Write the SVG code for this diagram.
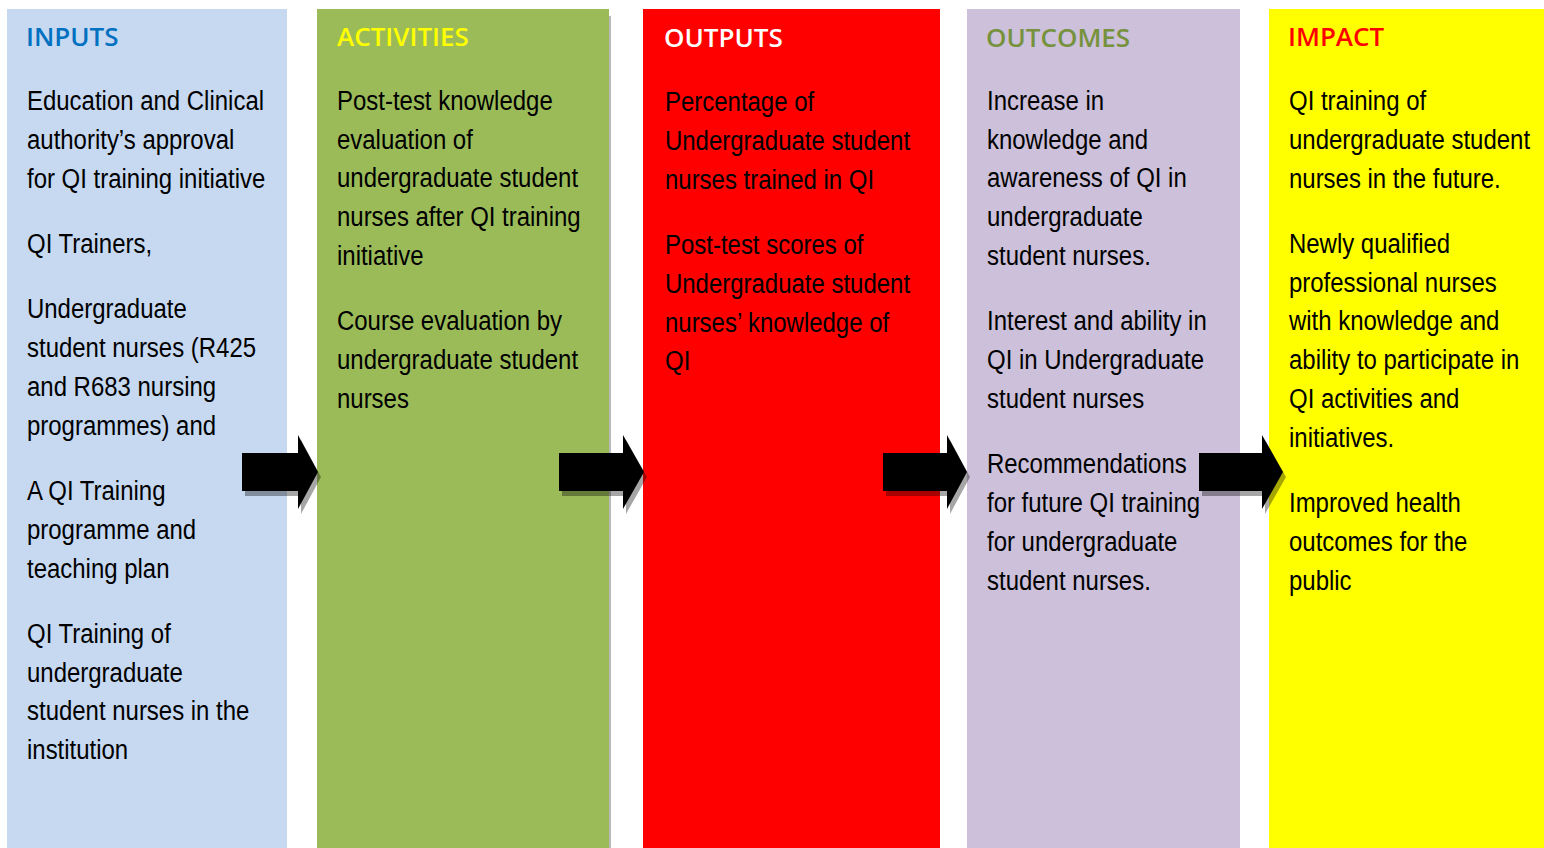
<svg xmlns="http://www.w3.org/2000/svg" width="1544" height="848" viewBox="0 0 1544 848">
<defs>
<style>
.hd{font-family:"Open Sans","Liberation Sans",sans-serif;font-weight:600;font-size:26px}
.tx{font-family:"Liberation Sans",Arial,sans-serif;font-size:28px;fill:#000}
.arrow{fill:#000}
.shadow{fill:#000;opacity:0.35}
</style>
</defs>
<rect x="0" y="0" width="1544" height="848" fill="#fff"/>
<g id="inputs">
<rect x="7" y="9" width="280" height="839" fill="#C6D9F1"/>
<text class="hd" x="26" y="46" fill="#0070C0">INPUTS</text>
<text class="tx" transform="translate(27,0) scale(0.856,1)"><tspan x="0" y="110">Education and Clinical</tspan><tspan x="0" y="149">authority’s approval</tspan><tspan x="0" y="188">for QI training initiative</tspan><tspan x="0" y="253">QI Trainers,</tspan><tspan x="0" y="318">Undergraduate</tspan><tspan x="0" y="357">student nurses (R425</tspan><tspan x="0" y="396">and R683 nursing</tspan><tspan x="0" y="435">programmes) and</tspan><tspan x="0" y="500">A QI Training</tspan><tspan x="0" y="539">programme and</tspan><tspan x="0" y="578">teaching plan</tspan><tspan x="0" y="643">QI Training of</tspan><tspan x="0" y="682">undergraduate</tspan><tspan x="0" y="720">student nurses in the</tspan><tspan x="0" y="759">institution</tspan></text>
</g>
<g id="activities">
<rect x="609" y="16" width="2" height="832" fill="#8a8a8a" opacity="0.6"/>
<rect x="317" y="9" width="292" height="839" fill="#9BBB59"/>
<text class="hd" x="337" y="46" fill="#FFFF00">ACTIVITIES</text>
<text class="tx" transform="translate(337,0) scale(0.856,1)"><tspan x="0" y="110">Post-test knowledge</tspan><tspan x="0" y="149">evaluation of</tspan><tspan x="0" y="187">undergraduate student</tspan><tspan x="0" y="226">nurses after QI training</tspan><tspan x="0" y="265">initiative</tspan><tspan x="0" y="330">Course evaluation by</tspan><tspan x="0" y="369">undergraduate student</tspan><tspan x="0" y="408">nurses</tspan></text>
</g>
<g id="outputs">
<rect x="643" y="9" width="297" height="839" fill="#FF0000"/>
<text class="hd" x="664" y="47" fill="#FFFFFF">OUTPUTS</text>
<text class="tx" transform="translate(665,0) scale(0.856,1)"><tspan x="0" y="111">Percentage of</tspan><tspan x="0" y="150">Undergraduate student</tspan><tspan x="0" y="189">nurses trained in QI</tspan><tspan x="0" y="254">Post-test scores of</tspan><tspan x="0" y="293">Undergraduate student</tspan><tspan x="0" y="332">nurses’ knowledge of</tspan><tspan x="0" y="370">QI</tspan></text>
</g>
<g id="outcomes">
<rect x="967" y="9" width="273" height="839" fill="#CCC0DA"/>
<text class="hd" x="986" y="47" fill="#76923C">OUTCOMES</text>
<text class="tx" transform="translate(987,0) scale(0.856,1)"><tspan x="0" y="110">Increase in</tspan><tspan x="0" y="149">knowledge and</tspan><tspan x="0" y="187">awareness of QI in</tspan><tspan x="0" y="226">undergraduate</tspan><tspan x="0" y="265">student nurses.</tspan><tspan x="0" y="330">Interest and ability in</tspan><tspan x="0" y="369">QI in Undergraduate</tspan><tspan x="0" y="408">student nurses</tspan><tspan x="0" y="473">Recommendations</tspan><tspan x="0" y="512">for future QI training</tspan><tspan x="0" y="551">for undergraduate</tspan><tspan x="0" y="590">student nurses.</tspan></text>
</g>
<g id="impact">
<rect x="1269" y="9" width="275" height="839" fill="#FFFF00"/>
<text class="hd" x="1288" y="46" fill="#FF0000">IMPACT</text>
<text class="tx" transform="translate(1289,0) scale(0.856,1)"><tspan x="0" y="110">QI training of</tspan><tspan x="0" y="149">undergraduate student</tspan><tspan x="0" y="188">nurses in the future.</tspan><tspan x="0" y="253">Newly qualified</tspan><tspan x="0" y="292">professional nurses</tspan><tspan x="0" y="330">with knowledge and</tspan><tspan x="0" y="369">ability to participate in</tspan><tspan x="0" y="408">QI activities and</tspan><tspan x="0" y="447">initiatives.</tspan><tspan x="0" y="512">Improved health</tspan><tspan x="0" y="551">outcomes for the</tspan><tspan x="0" y="590">public</tspan></text>
</g>
<g id="connectors">
<polygon class="shadow" points="245,458 301,458 301,440 321,477 301,514 301,496 245,496"/>
<polygon class="shadow" points="562,458 626,458 626,440 647,477 626,514 626,496 562,496"/>
<polygon class="shadow" points="886,458 950,458 950,440 970,477 950,514 950,496 886,496"/>
<polygon class="shadow" points="1202,458 1265,458 1265,440 1286,477 1265,514 1265,496 1202,496"/>
<polygon class="arrow" points="242,453 298,453 298,435 318,472 298,509 298,491 242,491"/>
<polygon class="arrow" points="559,453 623,453 623,435 644,472 623,509 623,491 559,491"/>
<polygon class="arrow" points="883,453 947,453 947,435 967,472 947,509 947,491 883,491"/>
<polygon class="arrow" points="1199,453 1262,453 1262,435 1283,472 1262,509 1262,491 1199,491"/>
</g>
</svg>
